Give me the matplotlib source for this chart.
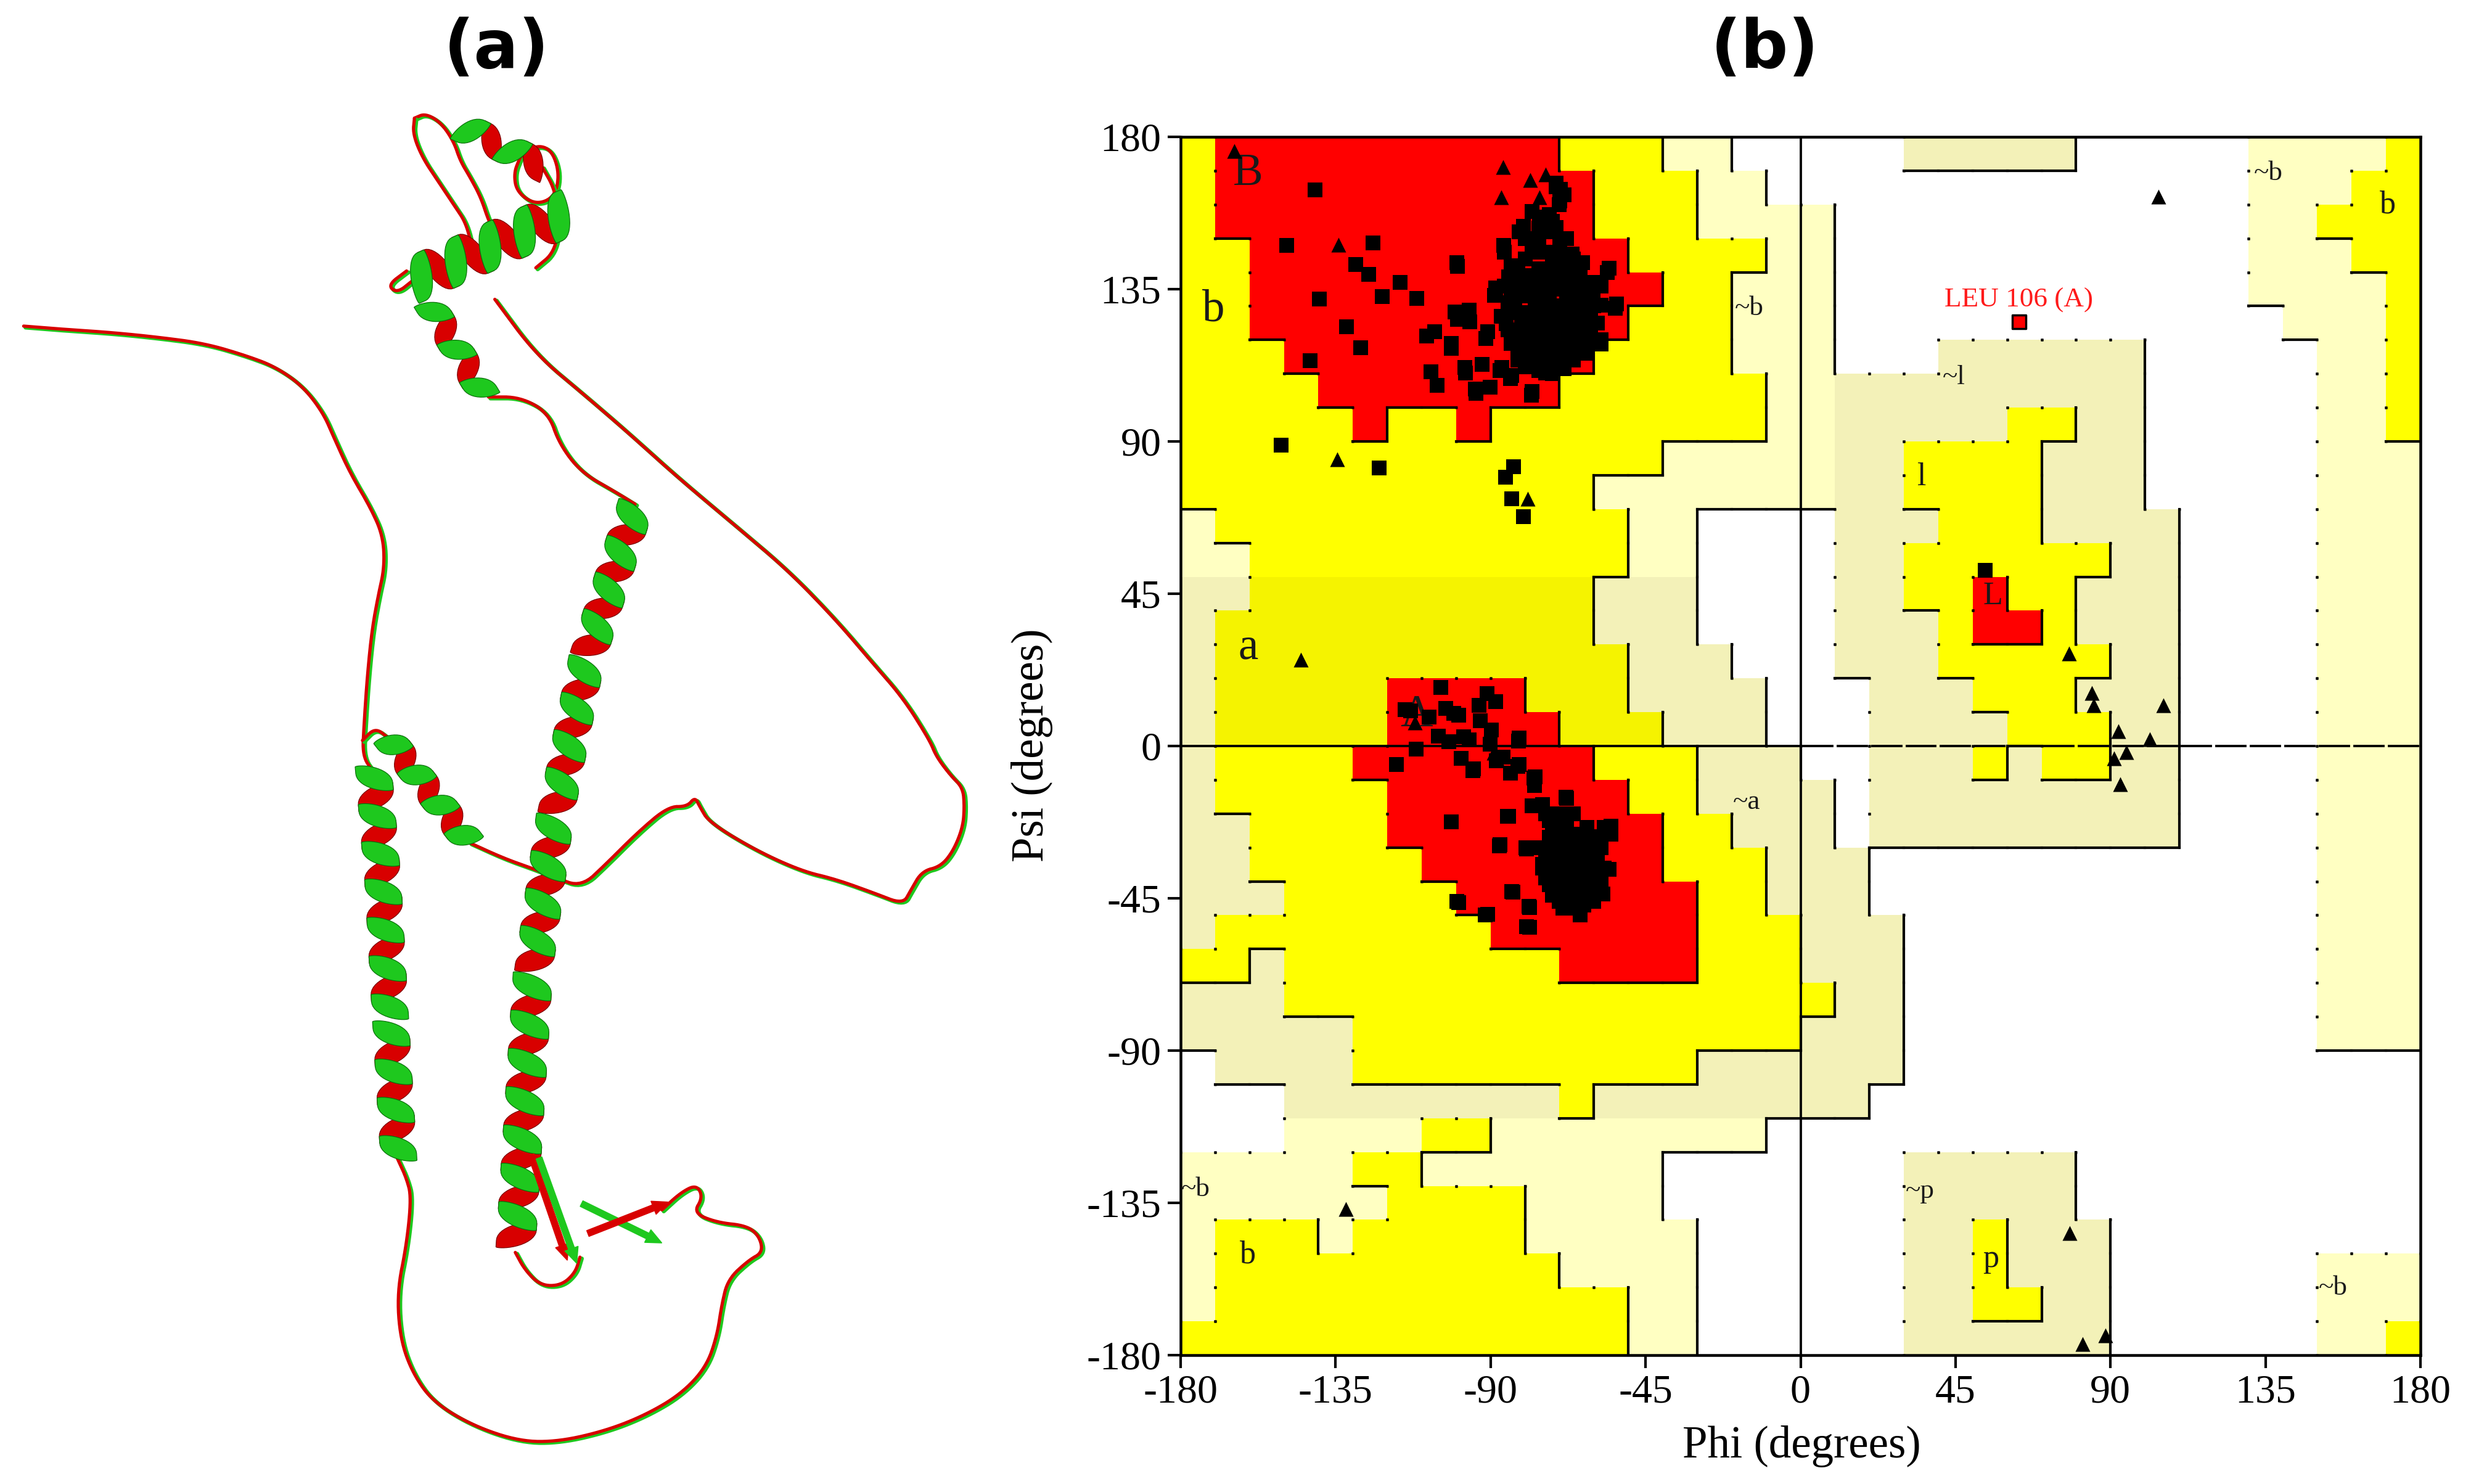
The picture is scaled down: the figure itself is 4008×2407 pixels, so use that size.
import numpy as np
import matplotlib
matplotlib.use("Agg")
import matplotlib.pyplot as plt
from matplotlib.collections import LineCollection
from matplotlib.patches import Polygon, FancyArrow
from matplotlib.colors import ListedColormap

# ------------------------------------------------------------------
# DATA
# ------------------------------------------------------------------
# Ramachandran region map, 10-degree cells. Row 0 = psi 170..180 (top),
# each row: phi -180..0 (left half) + phi 0..180 (right half).
# W disallowed, g/G generously allowed, y/Y additionally allowed, R most favoured
REGION_LEFT = [
    "yRRRRRRRRRRyyyggWW",  # 170..180
    "yRRRRRRRRRRRyyyggW",
    "yRRRRRRRRRRRyyyggg",
    "yyRRRRRRRRRRRyyyyg",
    "yyRRRRRRRRRRRRyygg",
    "yyRRRRRRRRRRRyyygg",
    "yyyRRRRRRRRRyyyygg",
    "yyyyRRRRRRRyyyyyyg",
    "yyyyyRyyRyyyyyyyyg",
    "yyyyyyyyyyyyyygggg",
    "yyyyyyyyyyyygggggg",
    "gyyyyyyyyyyyyggWWW",
    "ggyyyyyyyyyyyggWWW",
    "GGYYYYYYYYYYGGGWWW",
    "GYYYYYYYYYYYGGGWWW",
    "GYYYYYYYYYYYYGGGWW",
    "GYYYYYRRRRYYYGGGGW",
    "GYYYYYRRRRRYYYGGGW",  # 0..10
    "GyyyyRRRRRRRyyyGGG",  # -10..0
    "GyyyyyRRRRRRRyyGGG",
    "GGyyyyRRRRRRRRyyGG",
    "GGyyyyyRRRRRRRyyyG",
    "GGGyyyyyRRRRRRRyyG",
    "GyyyyyyyyRRRRRRyyy",
    "yyGyyyyyyyyRRRRyyy",
    "GGGyyyyyyyyyyyyyyy",
    "GGGGGyyyyyyyyyyyyy",
    "WGGGGyyyyyyyyyyGGG",
    "WWWGGGGGGGGyGGGGGG",
    "WWWggggyyggggggggW",
    "gggggyygggggggWWWW",
    "ggggggyyyyggggWWWW",
    "gyyygyyyyygggggWWW",
    "gyyyyyyyyyyggggWWW",
    "gyyyyyyyyyyyyggWWW",
    "yyyyyyyyyyyyyggWWW",  # -180..-170
]
REGION_RIGHT = [
    "WWWGGGGGWWWWWggggy",
    "WWWWWWWWWWWWWgggyy",
    "gWWWWWWWWWWWWggyyy",
    "gWWWWWWWWWWWWgggyy",
    "gWWWWWWWWWWWWggggy",
    "gWWWWWWWWWWWWWgggy",
    "gWWWGGGGGGWWWWWggy",
    "gGGGGGGGGGWWWWWggy",
    "gGGGGGyyGGWWWWWggy",
    "gGGyyyyGGGWWWWWggg",
    "gGGyyyyGGGWWWWWggg",
    "WGGGyyyGGGGWWWWggg",
    "WGGyyyyyyGGWWWWggg",
    "WGGyyRyyGGGWWWWggg",
    "WGGGyRRyGGGWWWWggg",
    "WGGGyyyyyGGWWWWggg",
    "WWGGGyyyGGGWWWWggg",
    "WWGGGGyyyGGWWWWggg",
    "WWGGGyGyyGGWWWWggg",
    "GWGGGGGGGGGWWWWggg",
    "GWGGGGGGGGGWWWWggg",
    "GGWWWWWWWWWWWWWggg",
    "GGWWWWWWWWWWWWWggg",
    "GGGWWWWWWWWWWWWggg",
    "GGGWWWWWWWWWWWWggg",
    "yGGWWWWWWWWWWWWggg",
    "GGGWWWWWWWWWWWWggg",
    "GGGWWWWWWWWWWWWWWW",
    "GGWWWWWWWWWWWWWWWW",
    "WWWWWWWWWWWWWWWWWW",
    "WWWGGGGGWWWWWWWWWW",
    "WWWGGGGGWWWWWWWWWW",
    "WWWGGyGGGWWWWWWWWW",
    "WWWGGyGGGWWWWWWggg",
    "WWWGGyyGGWWWWWWggg",
    "WWWGGGGGGWWWWWWggy",
]
REGION_ROWS = [l + r for l, r in zip(REGION_LEFT, REGION_RIGHT)]
REGION_CODES = "WgGyYR"
REGION_COLOURS = ["#ffffff", "#ffffc2", "#f3f1b8", "#ffff00", "#f5f300", "#ff0000"]
REGION_LEVEL = {"W": 0, "g": 1, "G": 1, "y": 2, "Y": 2, "R": 3}

# non-glycine residues (squares): beta-region residues
beta_phi = [
    -140.9, -149.2, -124.2, -129.2, -125.4, -116.2, -121.5, -111.5, -139.8, -131.9,
    -127.8, -142.4, -99.8, -86.2, -106.2, -100.4, -96.2, -108.6, -101.5, -107.4,
    -105.6, -97.4, -94.5, -90.9, -88.6, -86.8, -83.9, -78.0, -69.8, -71.0,
    -75.6, -80.4, -76.2, -55.6, -53.5, -58.0, -150.9, -122.4, -83.3, -85.6,
    -83.9, -80.4,
    -71.0, -68.7, -69.9, -75.8, -81.7, -71.0, -76.4, -86.0, -99.7, -69.9,
    -66.3, -63.3, -56.2, -53.8, -84.8, -79.4, -73.5, -88.9, -84.2, -77.0,
    -69.9, -65.1, -60.3, -58.0, -66.3, -73.5, -79.4, -85.4, -91.4, -96.1,
    -99.7, -101.5, -83.0, -75.8, -68.7, -61.5, -58.0, -66.3, -74.1, -80.6,
    -77.0, -71.0, -68.7, -74.1, -97.3, -92.5, -87.2, -84.2, -94.3, -78.2, -90.2,
    -84, -80, -76, -72, -68, -64, -60, -86, -82, -78, -74, -70, -66, -62, -58,
    -85, -81, -77, -73, -69, -65, -61, -87, -83, -79, -75, -71, -67, -63, -59,
    -84, -80, -76, -72, -68, -64, -60, -82, -78, -74, -70, -66,
    -80, -76, -72, -68, -78, -73,
    -82, -78, -74, -70, -66, -62, -84, -80, -76, -72, -68, -64, -60,
    -83, -79, -75, -71, -67, -63, -85, -81, -77, -73, -69, -65, -61,
    -82, -78, -74, -70, -66, -62, -80, -76, -72,
    -78, -74, -70, -66, -76, -72, -70,
]
beta_psi = [
    164.4, 148.0, 148.7, 142.3, 139.4, 137.0, 132.9, 132.3, 132.0, 123.9,
    117.7, 113.8, 142.9, 148.0, 122.4, 128.2, 128.8, 121.2, 118.9, 110.6,
    106.5, 111.8, 105.4, 122.4, 135.3, 111.8, 109.5, 104.8, 164.6, 166.4,
    156.4, 153.5, 148.2, 141.2, 130.6, 120.0, 88.9, 82.1, 82.5, 79.5,
    73.1, 67.8,
    165.3, 162.9, 161.0, 155.3, 152.0, 153.2, 146.5, 145.9, 141.7, 147.7,
    145.3, 142.9, 139.9, 129.3, 138.6, 137.4, 139.2, 133.2, 130.8, 134.4,
    135.6, 138.0, 134.4, 130.2, 130.8, 128.4, 126.0, 124.8, 120.5, 125.4,
    126.0, 117.5, 121.2, 122.4, 123.6, 122.4, 118.8, 118.8, 118.8, 117.5,
    112.7, 115.7, 111.5, 110.3, 110.3, 112.7, 110.9, 108.5, 104.3, 103.7, 106.1,
    142, 144, 141, 143, 141, 140, 137, 136, 138, 135, 137, 138, 134, 132, 136,
    131, 133, 130, 132, 130, 128, 127, 127, 128, 124, 126, 124, 125, 123, 125,
    119, 121, 119, 120, 117, 119, 120, 114, 115, 114, 113, 114,
    150, 150, 152, 150, 158, 157,
    140, 139, 140, 140, 137, 136, 134, 136, 133, 135, 133, 131, 130,
    130, 128, 129, 128, 127, 126, 123, 125, 122, 122, 121, 122, 121,
    118, 118, 117, 116, 117, 116, 112, 111, 110,
    146, 146, 145, 144, 153, 155, 160,
]
# alpha-region residues (and one left-handed helix residue)
alpha_phi = [
    -104.5, -113.3, -99.2, -93.3, -88.6, -114.9, -103.0, -91.0, -93.0, -89.7,
    -97.9, -86.4, -81.9, -111.7, -84.2, -77.3, -75.0, -70.4, -117.4, -98.6,
    -95.1, -82.1, -77.4, -85.1, -101.5, -78.0, -68.0, -87.4, -79.8, -55.1,
    -56.4, -58.0, -83.9, -78.6, -99.8, -91.5, -78.6,
    -107.9, -100.7, -105.1, -102.2, -96.2, -90.2, -81.8, -98.6, -95.0, -88.4,
    -81.8, -77.1, -77.7, -68.1, -74.1, -84.8, -87.2, -79.5, -56.2, -58.0,
    -55.6, -57.4, -83.6, -78.9, -99.2, -90.8, -79.5,
    -73, -69, -65, -61, -74, -70, -66, -62, -58, -75, -71, -67, -63, -59,
    -74, -70, -66, -62, -60, -72, -68, -64, -70, -66, -62, -73, -68, -57, -55,
    -68, -66, -70, -64, -72, -68, -62, -66, -70, -74, -60, -64, -68, -72, -62, -66,
    -70, -74, -58, -60, -64, -68, -72, -66, -62, -76, -65, -69, -63, -67, -71, -61,
    -73, -65, -67, -63, -59, -75, -70, -66, -64, -60, -57, -69,
    -72, -68, -64, -60, -73, -69, -65, -61, -72, -68, -64, -60, -71, -67, -63,
    -69, -65, -67, -63,
    53.6,
]
alpha_psi = [
    17.3, 10.3, 9.1, 12.0, 13.2, 10.8, 11.2, 15.4, 7.5, 4.7,
    2.8, -3.3, 1.4, -0.9, -8.0, -11.7, -17.3, -22.0, -5.4, -3.6,
    -7.2, -6.0, -9.5, -20.7, -22.4, -17.7, -15.4, -29.5, -30.0, -23.6,
    -36.5, -43.5, -43.0, -47.7, -45.9, -50.0, -53.5,
    8.5, 9.7, 3.0, 1.2, 1.8, 0.6, 2.4, -3.7, -6.7, -4.3,
    -5.5, -9.1, -17.6, -15.2, -20.1, -20.7, -29.2, -30.4, -24.0, -26.7,
    -36.4, -43.7, -43.1, -47.4, -46.2, -49.8, -53.4,
    -27, -26, -27, -28, -31, -31, -30, -31, -30, -35, -35, -34, -35, -34,
    -39, -39, -38, -39, -42, -43, -43, -43, -46, -46, -45, -22, -21, -24, -26,
    -30, -34, -36, -38, -32, -40, -42, -44, -42, -38, -36, -28, -24, -26, -32, -40,
    -30, -34, -40, -46, -48, -46, -44, -26, -24, -30, -36, -38, -35, -32, -40, -39,
    -41, -42, -28, -44, -33, -36, -20, -20, -50, -28, -36, -48,
    -29, -28, -29, -32, -33, -33, -32, -33, -37, -37, -37, -37, -41, -41, -41,
    -44, -44, -48, -47,
    52.0,
]
nongly_phi = beta_phi + alpha_phi
nongly_psi = beta_psi + alpha_psi

# glycine residues (triangles)
gly_phi = [-164.5, -86.3, -78.5, -86.9, -74.1, -75.8, -134.1, -134.5, -79.2, -145.1,
           -71.0, -112.0, -88.0, -132.1, 104.0, 77.9, 84.6, 85.2, 105.4, 92.2,
           101.4, 94.6, 91.0, 92.8, 78.1, 81.9, 88.5, -89.0]
gly_psi = [175.8, 171.0, 167.3, 162.1, 168.9, 162.1, 148.2, 84.8, 73.1, 25.5,
           154.0, 7.0, -4.2, -136.9, 162.3, 27.3, 15.6, 12.0, 12.0, 4.4,
           2.0, -1.9, -3.6, -11.3, -143.9, -176.8, -174.1, -2.0]
# outlier residue
outlier_phi = [63.4]
outlier_psi = [125.3]
outlier_label = "LEU 106 (A)"

# region labels (text, phi, psi, size)
region_labels = [
    ("B", -160.4, 169.0, 21), ("b", -170.4, 128.8, 21), ("~b", -15.0, 129.4, 13),
    ("a", -160.4, 29.0, 21), ("A", -111.5, 9.1, 21), ("~a", -15.6, -16.5, 13),
    ("~b", -175.6, -131.0, 13), ("b", -160.4, -150.4, 15), ("~l", 44.6, 108.9, 13),
    ("l", 35.2, 79.5, 15), ("L", 55.8, 44.3, 15), ("~b", 135.8, 169.3, 13),
    ("b", 170.5, 159.9, 15), ("~p", 34.6, -131.6, 13), ("p", 55.2, -151.5, 15),
    ("~b", 154.6, -160.1, 13),
]
ticks = [-180, -135, -90, -45, 0, 45, 90, 135, 180]

# ---- panel (a): superposed ribbon trace (drawing coordinates, 1568 x 942 canvas)
COILS = [
    [(15, 207), (40, 209), (70, 211), (100, 214), (130, 218), (157, 226), (175, 233),
     (192, 245), (205, 262), (212, 278), (222, 300), (235, 322), (243, 340), (244, 360),
     (240, 378), (236, 400), (233, 430), (231, 460), (230, 480), (237, 490)],
    [(230, 470), (238, 462), (246, 468)],
    [(252, 735), (258, 748), (261, 760), (258, 790), (252, 820), (254, 850), (262, 872),
     (275, 890), (300, 905), (330, 915), (355, 915), (385, 908), (410, 898), (432, 885),
     (448, 868), (455, 848), (458, 828), (462, 812), (475, 800), (484, 795), (482, 785),
     (474, 778), (455, 776), (440, 770), (446, 760), (442, 752), (432, 757), (420, 768)],
    [(327, 795), (333, 806), (343, 816), (356, 816), (365, 808), (368, 798)],
    [(314, 190), (340, 225), (370, 250), (399, 275), (430, 303), (467, 334), (500, 362),
     (530, 393), (553, 420), (573, 443), (590, 470), (594, 480), (603, 492), (611, 500),
     (612, 512), (611, 525), (605, 540), (597, 550), (585, 553), (578, 565), (573, 574),
     (555, 567), (530, 558), (509, 553), (480, 540), (450, 522), (444, 512), (441, 506),
     (436, 512), (424, 512), (405, 528), (385, 548), (369, 563), (352, 557), (340, 552),
     (320, 545), (298, 535)],
    [(403, 320), (390, 312), (369, 300), (355, 282), (348, 262), (330, 252), (310, 252)],
    [(263, 75), (270, 72), (280, 78), (288, 90), (292, 102), (298, 112), (305, 125),
     (310, 140), (315, 150)],
    [(263, 75), (262, 85), (268, 100), (278, 115), (288, 130), (296, 142), (300, 160)],
    [(330, 100), (340, 92), (350, 95), (355, 110), (352, 125), (340, 130), (328, 122),
     (326, 110), (330, 100)],
    [(344, 106), (352, 120), (355, 140), (352, 160), (340, 170)],
    [(262, 178), (252, 186), (246, 181), (258, 172)],
]
HELICES = [  # start, end, turns, width
    ((403, 322), (372, 420), 4.2, 23), ((372, 420), (352, 520), 4.2, 23),
    ((352, 520), (338, 620), 4.2, 24), ((338, 620), (327, 795), 7.2, 25),
    ((237, 488), (243, 560), 3.0, 23), ((243, 560), (248, 650), 3.7, 23),
    ((248, 650), (253, 735), 3.5, 23),
    ((246, 468), (298, 535), 3.5, 19), ((272, 192), (308, 252), 2.5, 19),
    ((262, 178), (360, 135), 4.5, 30), ((292, 80), (345, 106), 2.0, 20),
]
STRANDS = [  # start, end, colour index
    ((337, 733), (360, 800), 1), ((342, 735), (366, 802), 0),
    ((369, 764), (420, 789), 0), ((373, 783), (424, 763), 1),
]

GREEN = "#1ec81e"
RED = "#d80000"

# ------------------------------------------------------------------
# FIGURE
# ------------------------------------------------------------------
DPI = 250
fig = plt.figure(figsize=(4008 / DPI, 2407 / DPI), dpi=DPI)
SERIF = ["Liberation Serif", "DejaVu Serif"]

# ---------------- panel (a) ----------------
ax_a = fig.add_axes([0, 0, 1, 1], zorder=0)
ax_a.set_xlim(0, 1568)
ax_a.set_ylim(942, 0)
ax_a.axis("off")


def smooth(pts, it=3):
    p = np.asarray(pts, float)
    for _ in range(it):
        q = 0.75 * p[:-1] + 0.25 * p[1:]
        r = 0.25 * p[:-1] + 0.75 * p[1:]
        new = np.empty((2 * len(q), 2))
        new[0::2] = q
        new[1::2] = r
        p = np.vstack([p[:1], new, p[-1:]])
    return p


for path in COILS:
    s = smooth(path)
    ax_a.plot(s[:, 0] + 1.2, s[:, 1] + 0.9, color=GREEN, lw=1.9, solid_capstyle="round", zorder=1)
    ax_a.plot(s[:, 0], s[:, 1], color=RED, lw=1.5, solid_capstyle="round", zorder=1)


def draw_helix(ax, p0, p1, turns, width, thick=14.0):
    p0 = np.asarray(p0, float)
    p1 = np.asarray(p1, float)
    d = p1 - p0
    L = np.hypot(*d)
    u = d / L
    n = np.array([-u[1], u[0]])
    nh = max(1, int(round(2 * turns)))
    for k in range(nh):
        th = np.linspace(k * np.pi, (k + 1) * np.pi, 18)
        s = th / (2 * np.pi * turns) * L
        c = p0 + np.outer(s, u) + np.outer(0.5 * width * np.cos(th), n)
        h = thick * (0.3 + 0.7 * np.abs(np.sin(th))) / 2
        up = c + np.outer(h, u)
        lo = c - np.outer(h, u)
        poly = np.vstack([up, lo[::-1]])
        col = GREEN if k % 2 == 0 else RED
        ax.add_patch(Polygon(poly, closed=True, fc=col, ec="#7a0000" if k % 2 else "#0b700b",
                             lw=0.35, zorder=3 if k % 2 == 0 else 2))


for p0, p1, t, w in HELICES:
    draw_helix(ax_a, p0, p1, t, w)

for p0, p1, ci in STRANDS:
    dx, dy = p1[0] - p0[0], p1[1] - p0[1]
    col = GREEN if ci == 0 else RED
    ax_a.add_patch(FancyArrow(p0[0], p0[1], dx, dy, width=4, head_width=9, head_length=10,
                              length_includes_head=True, fc=col, ec=col, lw=0.4, zorder=3))

fig.text(805 / 4008, 1 - 80 / 2407, "(a)", ha="center", va="center", fontsize=31,
         fontweight="heavy", family="DejaVu Sans")
fig.text(2863 / 4008, 1 - 80 / 2407, "(b)", ha="center", va="center", fontsize=31,
         fontweight="heavy", family="DejaVu Sans")

# ---------------- panel (b) ----------------
ax = fig.add_axes([1915 / 4008, 1 - 2198 / 2407, (3926 - 1915) / 4008, 1976 / 2407], zorder=1)
codes = np.array([[REGION_CODES.index(ch) for ch in row] for row in REGION_ROWS])
edges = np.arange(-180, 181, 10)
ax.pcolormesh(edges, edges, codes[::-1], cmap=ListedColormap(REGION_COLOURS),
              vmin=-0.5, vmax=len(REGION_COLOURS) - 0.5, shading="flat", zorder=0)

lev = np.array([[REGION_LEVEL[ch] for ch in row] for row in REGION_ROWS])
segs, dots = [], []
nr, nc = lev.shape
for i in range(nr - 1):
    yb = 170 - 10 * i
    for j in range(nc):
        x0 = -180 + 10 * j
        a, b = lev[i, j], lev[i + 1, j]
        if a > b:
            segs.append([(x0, yb), (x0 + 10, yb)])
        elif a < b:
            dots += [(x0, yb), (x0 + 10, yb)]
for i in range(nr):
    yt = 180 - 10 * i
    for j in range(nc - 1):
        xr = -170 + 10 * j
        a, b = lev[i, j], lev[i, j + 1]
        if a > b:
            segs.append([(xr, yt - 10), (xr, yt)])
        elif a < b:
            dots += [(xr, yt - 10), (xr, yt)]
ax.add_collection(LineCollection(segs, colors="k", linewidths=1.2, capstyle="projecting", zorder=2))
if dots:
    dots = np.array(dots)
    ax.plot(dots[:, 0], dots[:, 1], ls="none", marker="s", ms=1.0, color="k", mec="none", zorder=2)

# zero lines
ax.plot([-180, 0], [0, 0], color="k", lw=1.1, zorder=2)
for x0 in range(0, 180, 10):
    ax.plot([x0 + 0.8, x0 + 9.2], [0, 0], color="k", lw=1.1, zorder=2)
ax.plot([0, 0], [-180, 180], color="k", lw=1.1, zorder=2)

# residues
ax.scatter(nongly_phi, nongly_psi, marker="s", s=50, c="k", linewidths=0, zorder=5)
ax.scatter(gly_phi, gly_psi, marker="^", s=48, c="k", linewidths=0, zorder=5)
ax.scatter(outlier_phi, outlier_psi, marker="s", s=40, c="#ff0000", edgecolors="k",
           linewidths=1.0, zorder=6)
ax.text(outlier_phi[0], outlier_psi[0] + 6.5, outlier_label, color="#ff1a1a", fontsize=13,
        ha="center", va="center", family=SERIF, zorder=6)

for txt, x, y, fs in region_labels:
    ax.text(x, y, txt, fontsize=fs, ha="center", va="center", family=SERIF, color="#1a1a1a", zorder=4)

ax.set_xlim(-180, 180)
ax.set_ylim(-180, 180)
ax.set_xticks(ticks)
ax.set_yticks(ticks)
ax.set_xticklabels([str(t) for t in ticks], family=SERIF, fontsize=19)
ax.set_yticklabels([str(t) for t in ticks], family=SERIF, fontsize=19)
ax.tick_params(direction="out", length=6, width=1.2, top=False, right=False, pad=3)
for sp in ax.spines.values():
    sp.set_linewidth(1.3)

fig.text(2922 / 4008, 1 - 2346 / 2407, "Phi (degrees)", ha="center", va="center",
         fontsize=21, family=SERIF)
fig.text(1674 / 4008, 1 - 1209 / 2407, "Psi (degrees)", ha="center", va="center",
         fontsize=21, family=SERIF, rotation=90)

fig.savefig("out.png", dpi=DPI, facecolor="white")
